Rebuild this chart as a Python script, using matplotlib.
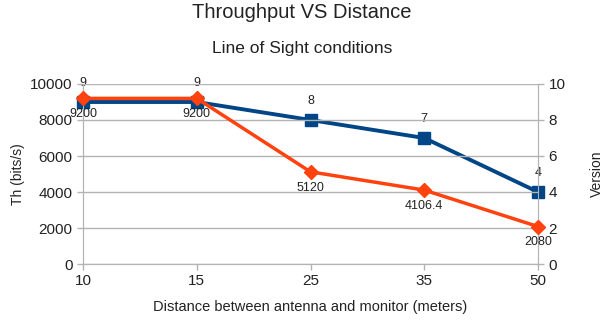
import matplotlib
matplotlib.use('Agg')
import matplotlib.pyplot as plt

plt.rcParams['font.family'] = ['Liberation Sans', 'DejaVu Sans']

distances = ['10', '15', '25', '35', '50']
throughput = [9200, 9200, 5120, 4106.4, 2080]
version = [9, 9, 8, 7, 4]
th_labels = ['9200', '9200', '5120', '4106.4', '2080']
ver_labels = ['9', '9', '8', '7', '4']

blue = '#004586'
orange = '#ff420e'
grid_col = '#b3b3b3'
text_col = '#222222'

fig = plt.figure(figsize=(6.04, 3.25), dpi=100)
ax = fig.add_axes([83 / 604, 61 / 325, 455 / 604, 180 / 325])
ax2 = ax.twinx()

x = list(range(len(distances)))

# right axis series (Version) drawn first so orange sits on top
ax2.plot(x, version, color=blue, linewidth=2.8, marker='s', markersize=9,
         zorder=3, clip_on=False)
ax2.set_ylim(0, 10)
ax2.set_yticks(range(0, 11, 2))

ax.plot(x, throughput, color=orange, linewidth=2.5, marker='D', markersize=7,
        zorder=4, clip_on=False)
ax.set_zorder(ax2.get_zorder() + 1)
ax.patch.set_visible(False)
ax.set_ylim(0, 10000)
ax.set_yticks(range(0, 10001, 2000))
ax.set_xlim(0, len(distances) - 1)
ax.set_xticks(x)
ax.set_xticklabels(distances)

ax.yaxis.grid(True, color=grid_col, linewidth=1)
ax.set_axisbelow(True)

for a in (ax, ax2):
    for s in a.spines.values():
        s.set_color(grid_col)
    a.spines['top'].set_visible(False)
    a.tick_params(colors=grid_col, labelcolor=text_col, labelsize=11, length=4, width=1)

# data labels
for xi, v, lab in zip(x, version, ver_labels):
    ax2.annotate(lab, (xi, v), xytext=(0, 9), textcoords='offset points',
                 ha='center', va='bottom', fontsize=9, color=text_col)
for xi, v, lab in zip(x, throughput, th_labels):
    ax.annotate(lab, (xi, v), xytext=(0, -7), textcoords='offset points',
                ha='center', va='top', fontsize=9, color=text_col, zorder=5)

ax.set_ylabel('Th (bits/s)', fontsize=10, color=text_col)
ax2.set_ylabel('Version', fontsize=10, color=text_col, labelpad=18)
ax.set_xlabel('Distance between antenna and monitor (meters)', fontsize=10.5,
              color=text_col, labelpad=8)

fig.text(0.5, 0.96, 'Throughput VS Distance', ha='center', va='center',
         fontsize=14.5, color=text_col)
fig.text(0.5, 0.85, 'Line of Sight conditions', ha='center', va='center',
         fontsize=12.5, color=text_col)

fig.savefig('out.png', dpi=100)
